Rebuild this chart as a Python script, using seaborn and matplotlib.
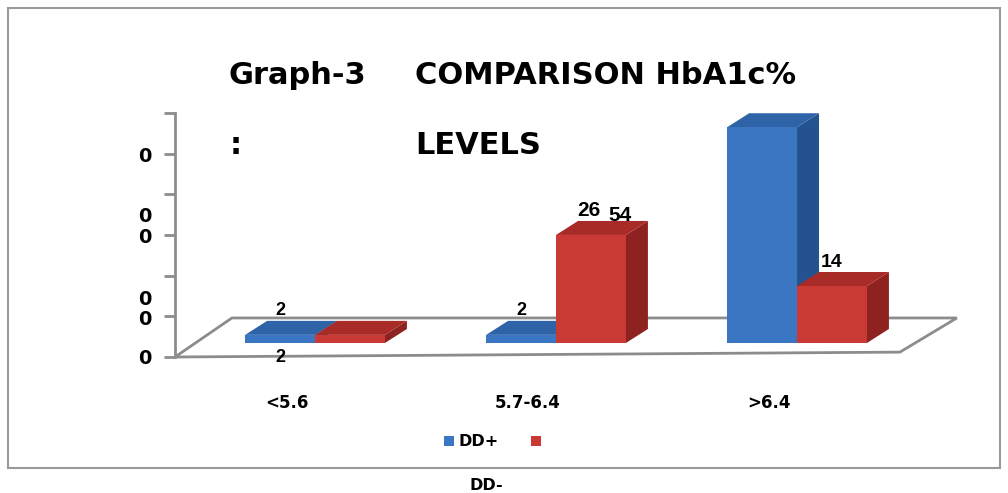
import numpy as np
import pandas as pd
import seaborn as sns
import matplotlib.pyplot as plt
from matplotlib.patches import Polygon, Rectangle
from matplotlib import transforms

categories = ["<5.6", "5.7-6.4", ">6.4"]
dd_plus = [2, 2, 53]
dd_minus = [2, 26.54, 14]
plus_labels = ["2", "2", ""]
minus_labels = ["2", "26.54", "14"]
# the y axis labels in the original are all garbled to "0"
ylabel_pos = [-3.7, 5.7, 10.6, 26.0, 31.0, 45.7]

df = pd.DataFrame({
    "level": categories * 2,
    "group": ["DD+"] * 3 + ["DD-"] * 3,
    "value": dd_plus + dd_minus,
})

sns.set_style("white")
plt.rcParams["font.family"] = ["DejaVu Sans"]
plt.rcParams["text.color"] = "black"
plt.rcParams["xtick.color"] = "black"

W, H = 1008, 493
fig = plt.figure(figsize=(W / 100, H / 100), dpi=100)
ax = fig.add_axes([175 / W, (H - 357) / H, 730 / W, 244 / H])

front = {"DD+": "#3b76c3", "DD-": "#c93a35"}
side = {"DD+": "#24528f", "DD-": "#8e2220"}
top = {"DD+": "#2f63a8", "DD-": "#a82b28"}

sns.barplot(data=df, x="level", y="value", hue="group", palette=front,
            width=0.58, saturation=1, legend=False, linewidth=0, ax=ax)

ylo, yhi = -3.44, 56.5
ax.set_ylim(ylo, yhi)
ax.set_xlim(-0.581, 2.448)

# fake 3D depth
dx = 22 / 241
dy = 14 / 4.07
for i, p in enumerate(ax.patches):
    g = "DD+" if i < 3 else "DD-"
    z = 3 if g == "DD+" else 5
    x, w, h = p.get_x(), p.get_width(), p.get_height()
    p.set_zorder(z + 1)
    ax.add_patch(Polygon([(x + w, 0), (x + w + dx, dy), (x + w + dx, h + dy), (x + w, h)],
                         closed=True, facecolor=side[g], edgecolor="none", zorder=z))
    ax.add_patch(Polygon([(x, h), (x + dx, h + dy), (x + w + dx, h + dy), (x + w, h)],
                         closed=True, facecolor=top[g], edgecolor="none", zorder=z))

# floor
floor = Polygon([(0, 0), (0.993, 0.02), (1.071, 0.16), (0.078, 0.16)], closed=True,
                transform=ax.transAxes, facecolor="white", edgecolor="#8c8c8c",
                lw=2, clip_on=False, zorder=1)
ax.add_patch(floor)

# data labels
lab = dict(family=["Liberation Sans", "DejaVu Sans"], fontweight="bold", zorder=10, color="black")
bars = ax.patches[:6]
for i in range(3):
    b = bars[i]
    if plus_labels[i]:
        ax.text(b.get_x() + b.get_width() / 2, b.get_height() + dy + 0.5, plus_labels[i],
                ha="center", va="bottom", fontsize=13, **lab)
b = bars[0]
ax.text(b.get_x() + b.get_width() / 2, -3.6, minus_labels[0], ha="center", va="center",
        fontsize=13, **lab)
b = bars[4]
whole, frac = minus_labels[1].split(".")
ax.text(b.get_x() + b.get_width() / 2 - 0.01, b.get_height() + dy + 0.2, whole,
        ha="center", va="bottom", fontsize=15, **lab)
ax.text(b.get_x() + b.get_width() / 2 + 0.12, b.get_height() + dy - 1.0, frac,
        ha="center", va="bottom", fontsize=15, **lab)
b = bars[5]
ax.text(b.get_x() + b.get_width() / 2, b.get_height() + dy + 0.3, minus_labels[2],
        ha="center", va="bottom", fontsize=14, **lab)

# axes styling
for s in ["top", "right", "bottom"]:
    ax.spines[s].set_visible(False)
ax.spines["left"].set_color("#8c8c8c")
ax.spines["left"].set_linewidth(2)
ax.set_yticks(np.linspace(ylo, yhi, 7))
ax.set_yticklabels([])
ax.tick_params(axis="y", length=8, width=2, color="#8c8c8c", left=True)
ax.tick_params(axis="x", length=0, pad=27, labelsize=12, labelcolor="black")
for t in ax.get_xticklabels():
    t.set_fontweight("bold")
    t.set_transform(t.get_transform() + transforms.ScaledTranslation(-0.28, 0, fig.dpi_scale_trans))
ax.set_xlabel("")
ax.set_ylabel("")
ytr = transforms.blended_transform_factory(ax.transAxes, ax.transData)
for v in ylabel_pos:
    ax.text(-0.041, v, "0", transform=ytr, ha="center", va="center",
            fontsize=14, fontweight="bold", color="black")

# title
tfont = dict(fontweight="bold", fontsize=22, va="center", ha="left", color="black")
fig.text(228 / W, 1 - 75 / H, "Graph-3", **tfont)
fig.text(415 / W, 1 - 75 / H, "COMPARISON HbA1c%", **tfont)
fig.text(230 / W, 1 - 145 / H, ":", **tfont)
fig.text(415 / W, 1 - 145 / H, "LEVELS", **tfont)

# legend
fig.patches.append(Rectangle((444 / W, 1 - 446 / H), 10 / W, 10 / H, transform=fig.transFigure,
                             facecolor=front["DD+"], edgecolor="none"))
fig.text(459 / W, 1 - 441 / H, "DD+", fontsize=11.5, fontweight="bold", va="center", ha="left")
fig.patches.append(Rectangle((531 / W, 1 - 446 / H), 10 / W, 10 / H, transform=fig.transFigure,
                             facecolor=front["DD-"], edgecolor="none"))
fig.text(486 / W, 1 - 485 / H, "DD-", fontsize=11.5, fontweight="bold", va="center", ha="center")

# outer border
fig.patches.append(Rectangle((8 / W, 1 - 468 / H), 992 / W, 460 / H, transform=fig.transFigure,
                             fill=False, edgecolor="#9a9a9a", lw=1.5))

fig.savefig("out.png", dpi=100)
